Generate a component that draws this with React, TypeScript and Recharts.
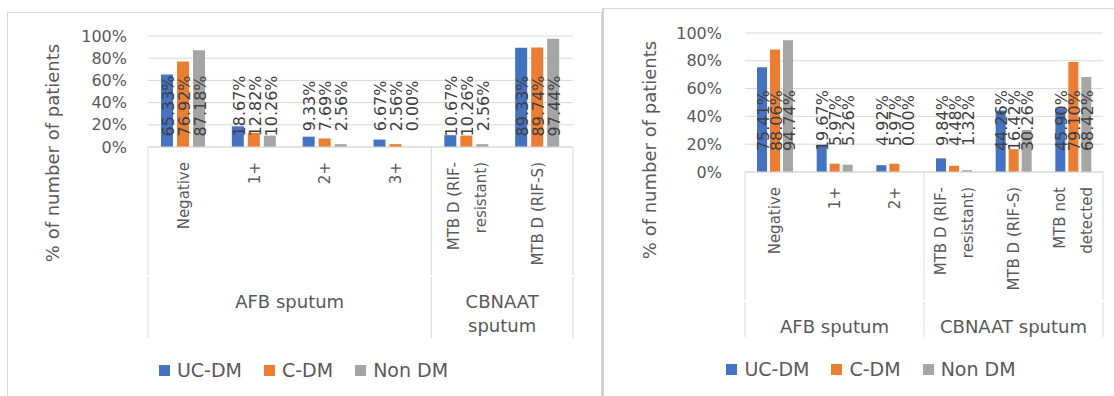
import React from "react";
import { BarChart, Bar, XAxis, YAxis, CartesianGrid, Legend, LabelList } from "recharts";

const SERIES = ["UC-DM", "C-DM", "Non DM"];
const COLORS = ["#4472C4", "#ED7D31", "#A5A5A5"];
const TEXT_COLOR = "#595959";
const VALUE_COLOR = "#404040";
const GRID_COLOR = "#d9d9d9";
const FONT = "'DejaVu Sans', 'Liberation Sans', sans-serif";

const Y_TICKS = [0, 20, 40, 60, 80, 100];

// Left panel
const leftCategories = ["Negative", "1+", "2+", "3+", "MTB D (RIF-\nresistant)", "MTB D (RIF-S)"];
const leftGroups = ["AFB sputum", "AFB sputum", "AFB sputum", "AFB sputum", "CBNAAT\nsputum", "CBNAAT\nsputum"];
const leftUcDm = [65.33, 18.67, 9.33, 6.67, 10.67, 89.33];
const leftCDm = [76.92, 12.82, 7.69, 2.56, 10.26, 89.74];
const leftNonDm = [87.18, 10.26, 2.56, 0.0, 2.56, 97.44];

// Right panel
const rightCategories = ["Negative", "1+", "2+", "MTB D (RIF-\nresistant)", "MTB D (RIF-S)", "MTB not\ndetected"];
const rightGroups = ["AFB sputum", "AFB sputum", "AFB sputum", "CBNAAT sputum", "CBNAAT sputum", "CBNAAT sputum"];
const rightUcDm = [75.41, 19.67, 4.92, 9.84, 44.26, 45.9];
const rightCDm = [88.06, 5.97, 5.97, 4.48, 16.42, 79.1];
const rightNonDm = [94.74, 5.26, 0.0, 1.32, 30.26, 68.42];

const LEGEND_H = 24;
const LABEL_LEVEL = 0.37; // value labels sit at this fraction of plot height
const LEVEL_SPLIT = 129; // distance from axis line to the group row

interface PanelProps {
  categories: string[];
  groups: string[];
  ucDm: number[];
  cDm: number[];
  nonDm: number[];
  width: number;
  height: number;
  margin: { top: number; right: number; bottom: number; left: number };
  yAxisWidth: number;
  tickGap: number;
  xAxisHeight: number;
  legendTop: number;
  barSize: number;
  barGap: number;
}

function Panel(p: PanelProps) {
  const data = p.categories.map((c, i) => ({
    category: c,
    group: p.groups[i],
    ucdm: p.ucDm[i],
    cdm: p.cDm[i],
    nondm: p.nonDm[i],
  }));

  const plotWidth = p.width - p.margin.left - p.yAxisWidth - p.margin.right;
  const plotHeight = p.height - p.margin.top - p.margin.bottom - LEGEND_H - p.xAxisHeight;
  const plotBottom = p.margin.top + plotHeight;
  const band = plotWidth / p.categories.length;
  const axisBottom = plotBottom + p.xAxisHeight;
  const splitY = plotBottom + LEVEL_SPLIT;

  // eslint-disable-next-line @typescript-eslint/no-explicit-any
  const renderValue = (props: any) => {
    const vb = props.viewBox || {};
    const x = Number(props.x ?? vb.x);
    const w = Number(props.width ?? vb.width);
    const cx = x + w / 2 + 1;
    const cy = plotBottom - plotHeight * LABEL_LEVEL;
    return (
      <text
        x={cx}
        y={cy}
        dy="0.36em"
        transform={`rotate(-90, ${cx}, ${cy})`}
        textAnchor="middle"
        fontSize={16}
        fill={VALUE_COLOR}
      >
        {`${Number(props.value).toFixed(2)}%`}
      </text>
    );
  };

  // eslint-disable-next-line @typescript-eslint/no-explicit-any
  const renderCategoryTick = (props: any) => {
    const { x, index } = props;
    const lines = p.categories[index].split("\n");
    const top = plotBottom + 15;
    const g = p.groups[index];
    const isFirst = index === 0 || p.groups[index - 1] !== g;
    const isLast = index === p.categories.length - 1;
    const count = p.groups.filter((v) => v === g).length;
    const left = x - band / 2;
    const groupX = left + (count * band) / 2;
    const groupY = plotBottom + 155;
    return (
      <g>
        {lines.map((line: string, j: number) => {
          const lx = x + (j - (lines.length - 1) / 2) * 27;
          return (
            <text
              key={j}
              x={lx}
              y={top}
              dy="0.36em"
              transform={`rotate(-90, ${lx}, ${top})`}
              textAnchor="end"
              fontSize={15}
              fill={TEXT_COLOR}
            >
              {line}
            </text>
          );
        })}
        {isFirst && (
          <>
            <line x1={left} x2={left} y1={plotBottom} y2={splitY - 1} stroke={GRID_COLOR} />
            <line x1={left} x2={left} y1={splitY + 1} y2={axisBottom} stroke={GRID_COLOR} />
            {g.split("\n").map((gl: string, j: number) => (
              <text
                key={`g${j}`}
                x={groupX}
                y={groupY + j * 24}
                dy="0.36em"
                textAnchor="middle"
                fontSize={18}
                fill={TEXT_COLOR}
              >
                {gl}
              </text>
            ))}
          </>
        )}
        {isLast && (
          <>
            <line x1={x + band / 2} x2={x + band / 2} y1={plotBottom} y2={splitY - 1} stroke={GRID_COLOR} />
            <line x1={x + band / 2} x2={x + band / 2} y1={splitY + 1} y2={axisBottom} stroke={GRID_COLOR} />
          </>
        )}
      </g>
    );
  };

  // eslint-disable-next-line @typescript-eslint/no-explicit-any
  const renderTitle = (props: any) => {
    const vb = props.viewBox || {};
    const tx = vb.x - 35;
    const ty = vb.y + 117;
    return (
      <text
        x={tx}
        y={ty}
        dy="0.36em"
        transform={`rotate(-90, ${tx}, ${ty})`}
        textAnchor="middle"
        fontSize={18}
        fill={TEXT_COLOR}
      >
        % of number of patients
      </text>
    );
  };

  // legend entries kept in series order
  // eslint-disable-next-line @typescript-eslint/no-explicit-any
  const renderLegend = (props: any) => {
    // eslint-disable-next-line @typescript-eslint/no-explicit-any
    const items = [...(props.payload || [])].sort((a: any, b: any) => SERIES.indexOf(a.value) - SERIES.indexOf(b.value));
    return (
      <div
        style={{
          display: "flex",
          justifyContent: "center",
          alignItems: "center",
          height: LEGEND_H,
          gap: 22,
          fontSize: 19,
          color: TEXT_COLOR,
          fontFamily: FONT,
        }}
      >
        {/* eslint-disable-next-line @typescript-eslint/no-explicit-any */}
        {items.map((e: any) => (
          <div key={e.value} style={{ display: "flex", alignItems: "center" }}>
            <span style={{ width: 11, height: 11, background: e.color, marginRight: 7, display: "inline-block" }} />
            <span>{e.value}</span>
          </div>
        ))}
      </div>
    );
  };

  const keys = ["ucdm", "cdm", "nondm"];

  return (
    <BarChart
      width={p.width}
      height={p.height}
      data={data}
      margin={p.margin}
      barGap={p.barGap}
      barSize={p.barSize}
    >
      <CartesianGrid vertical={false} stroke={GRID_COLOR} />
      <XAxis
        dataKey="category"
        interval={0}
        height={p.xAxisHeight}
        tickLine={false}
        tickSize={0}
        tickMargin={0}
        axisLine={{ stroke: GRID_COLOR }}
        tick={renderCategoryTick}
      />
      <YAxis
        type="number"
        domain={[0, 100]}
        ticks={Y_TICKS}
        interval={0}
        width={p.yAxisWidth}
        axisLine={false}
        tickLine={false}
        tickSize={0}
        tickMargin={p.tickGap}
        tick={{ fontSize: 16, fill: TEXT_COLOR }}
        tickFormatter={(v: number) => `${v}%`}
        label={{ content: renderTitle }}
      />
      <Legend
        verticalAlign="bottom"
        height={LEGEND_H}
        content={renderLegend}
        wrapperStyle={{ left: 0, width: p.width, top: p.legendTop }}
      />
      {keys.map((k, i) => (
        <Bar key={k} dataKey={k} name={SERIES[i]} fill={COLORS[i]} minPointSize={0.01} isAnimationActive={false}>
          <LabelList dataKey={k} content={renderValue} />
        </Bar>
      ))}
    </BarChart>
  );
}

export default function App() {
  return (
    <div
      style={{
        position: "absolute",
        left: 0,
        top: 0,
        width: 1114,
        height: 396,
        overflow: "hidden",
        background: "#fff",
        fontFamily: FONT,
      }}
    >
      <div style={{ position: "absolute", left: 7, top: 12, width: 593, height: 400, border: `1px solid ${GRID_COLOR}` }} />
      <div
        style={{
          position: "absolute",
          left: 602,
          top: 8,
          width: 540,
          height: 400,
          border: `1px solid ${GRID_COLOR}`,
          borderLeft: "2px solid #d0d0d0",
        }}
      />
      <div style={{ position: "absolute", left: 7, top: 12 }}>
        <Panel
          categories={leftCategories}
          groups={leftGroups}
          ucDm={leftUcDm}
          cDm={leftCDm}
          nonDm={leftNonDm}
          width={593}
          height={384}
          margin={{ top: 24, right: 27, bottom: 34, left: 81 }}
          yAxisWidth={60}
          tickGap={21}
          xAxisHeight={191}
          legendTop={346}
          barSize={12}
          barGap={4}
        />
      </div>
      <div style={{ position: "absolute", left: 603, top: 8 }}>
        <Panel
          categories={rightCategories}
          groups={rightGroups}
          ucDm={rightUcDm}
          cDm={rightCDm}
          nonDm={rightNonDm}
          width={536}
          height={388}
          margin={{ top: 25, right: 36, bottom: 35, left: 82 }}
          yAxisWidth={60}
          tickGap={23}
          xAxisHeight={165}
          legendTop={349}
          barSize={10}
          barGap={3}
        />
      </div>
    </div>
  );
}
